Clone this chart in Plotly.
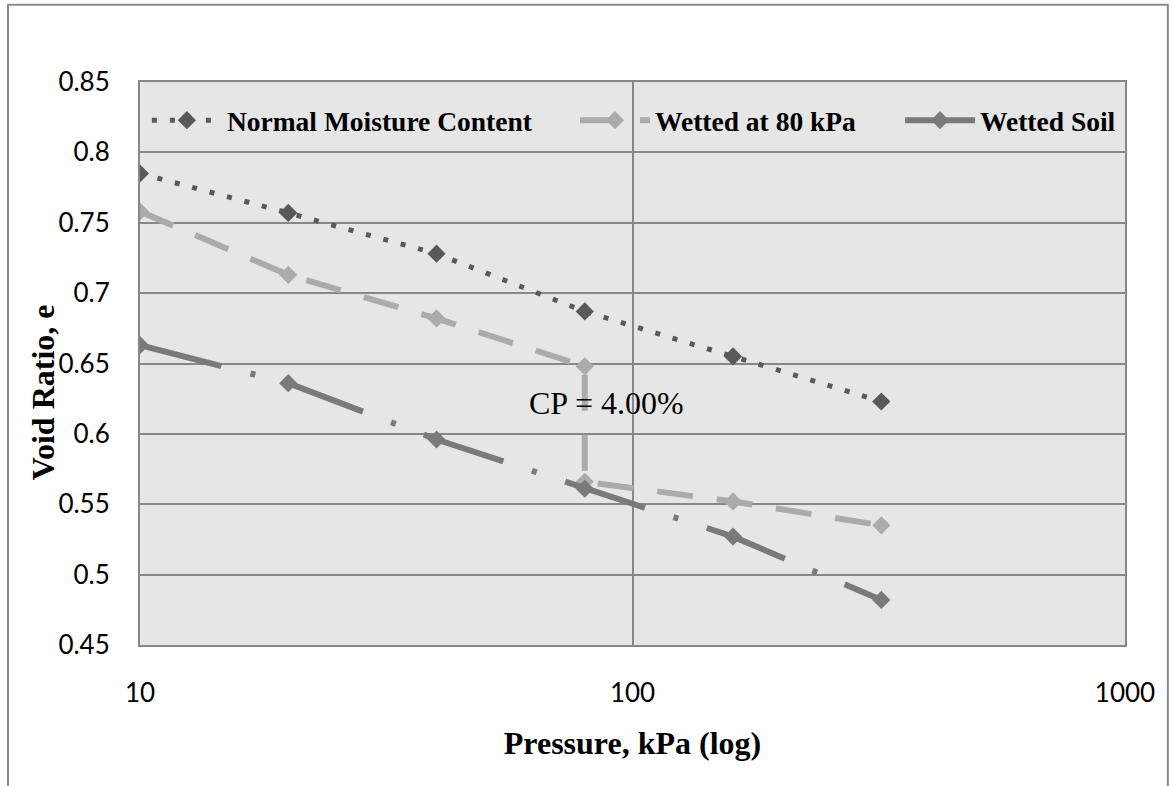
import plotly.graph_objects as go
import math

# ---- data ----
pressure = [10, 20, 40, 80, 160, 320]
normal_moisture = [0.785, 0.757, 0.728, 0.687, 0.655, 0.623]
wet80_pressure = [10, 20, 40, 80, 80, 160, 320]
wetted_80 = [0.758, 0.713, 0.682, 0.648, 0.566, 0.552, 0.535]
wetted_soil = [0.663, 0.636, 0.596, 0.561, 0.527, 0.482]

series_names = ["Normal Moisture Content", "Wetted at 80 kPa", "Wetted Soil"]
y_ticks = [0.45, 0.5, 0.55, 0.6, 0.65, 0.7, 0.75, 0.8, 0.85]
y_ticktext = ["0.45", "0.5", "0.55", "0.6", "0.65", "0.7", "0.75", "0.8", "0.85"]
x_ticks = [10, 100, 1000]
x_ticktext = ["10", "100", "1000"]
cp_label = "CP = 4.00%"
cp_pos = (88.5, 0.622)
x_title = "Pressure, kPa (log)"
y_title = "Void Ratio, e"

SERIF = "Liberation Serif, Times New Roman, serif"
SANS = "Lato, Liberation Sans, sans-serif"
GRID = "#878787"

fig = go.Figure()
fig.add_trace(go.Scatter(
    x=pressure, y=normal_moisture, name=series_names[0], mode="lines+markers",
    line=dict(color="#595959", width=5, dash="5px,13px"),
    marker=dict(symbol="diamond", size=14, color="#595959"),
    legend="legend",
))
fig.add_trace(go.Scatter(
    x=wet80_pressure, y=wetted_80, name=series_names[1], mode="lines+markers",
    line=dict(color="#ababab", width=6, dash="36px,24px"),
    marker=dict(symbol="diamond", size=14, color="#ababab"),
    legend="legend2",
))
fig.add_trace(go.Scatter(
    x=pressure, y=wetted_soil, name=series_names[2], mode="lines+markers",
    line=dict(color="#7a7a7a", width=6, dash="84px,30px,5px,30px"),
    marker=dict(symbol="diamond", size=14, color="#7a7a7a"),
    legend="legend3",
))

fig.add_annotation(
    x=math.log10(cp_pos[0]), y=cp_pos[1], text=cp_label, showarrow=False,
    xref="x", yref="y", xanchor="center", yanchor="middle",
    font=dict(family=SERIF, size=32, color="black"),
)

# y-axis title (placed like the original, slightly below the plot centre)
fig.add_annotation(
    x=-0.0985, y=0.449, xref="paper", yref="paper", text="<b>" + y_title + "</b>",
    textangle=-90, showarrow=False, xanchor="center", yanchor="middle",
    font=dict(family=SERIF, size=32, color="black"),
)

# outer chart border
fig.add_shape(type="rect", xref="paper", yref="paper",
              x0=-0.134, x1=1.0435, y0=-0.3, y1=1.137,
              line=dict(color="#8a8a8a", width=2), fillcolor="rgba(0,0,0,0)", layer="below")

legend_font = dict(family=SERIF, size=27.5, color="black", weight="bold")
legend_common = dict(orientation="h", xanchor="left", y=0.932, yanchor="middle",
                     bgcolor="rgba(0,0,0,0)", itemwidth=70, font=legend_font)

fig.update_layout(
    width=1170, height=786,
    margin=dict(l=140, r=45, t=82, b=141),
    paper_bgcolor="white", plot_bgcolor="#e6e6e6",
    showlegend=True,
    legend=dict(x=0.007, **legend_common),
    legend2=dict(x=0.4416, **legend_common),
    legend3=dict(x=0.7716, **legend_common),
    xaxis=dict(
        type="log", range=[1, 3], tickvals=x_ticks, ticktext=x_ticktext,
        showgrid=True, gridcolor=GRID, gridwidth=1.5,
        showline=True, linecolor=GRID, linewidth=2, mirror=True,
        ticks="", ticklabelstandoff=24,
        tickfont=dict(family=SANS, size=26, color="black"),
        title=dict(text="<b>" + x_title + "</b>", standoff=24,
                   font=dict(family=SERIF, size=32, color="black")),
        zeroline=False,
    ),
    yaxis=dict(
        range=[0.45, 0.85], tickvals=y_ticks, ticktext=y_ticktext,
        showgrid=True, gridcolor=GRID, gridwidth=1.5,
        showline=True, linecolor=GRID, linewidth=2, mirror=True,
        ticks="", ticklabelstandoff=23,
        tickfont=dict(family=SANS, size=26, color="black"),
        zeroline=False,
    ),
)

fig.write_html("out.html")
